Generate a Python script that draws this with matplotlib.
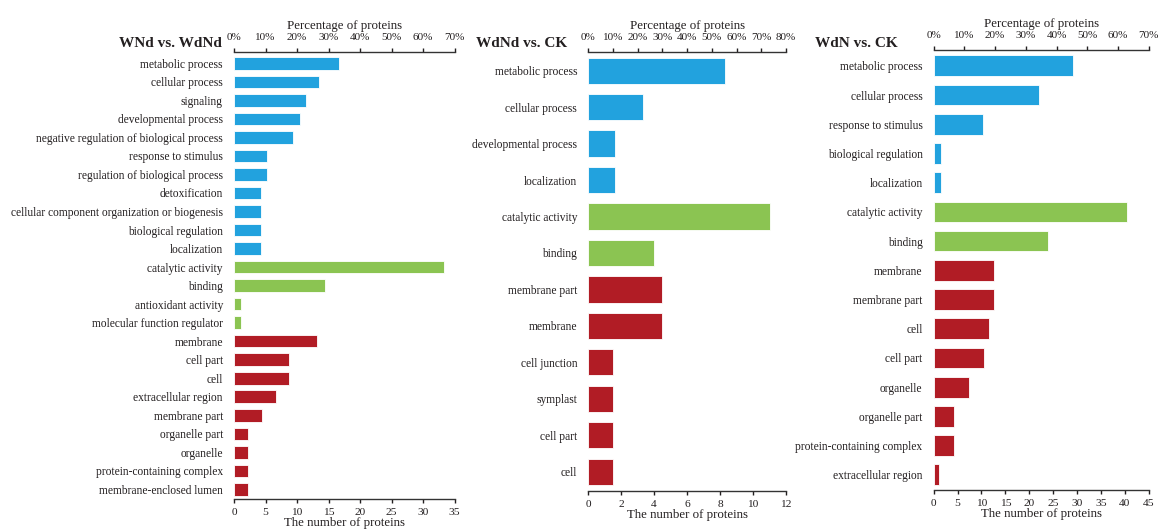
import matplotlib
matplotlib.use("Agg")
import matplotlib.pyplot as plt
from matplotlib.ticker import FuncFormatter

plt.rcParams["font.family"] = ["Liberation Serif", "DejaVu Serif"]
plt.rcParams["text.color"] = "#231f20"
plt.rcParams["axes.labelcolor"] = "#231f20"
plt.rcParams["xtick.color"] = "#231f20"
plt.rcParams["ytick.color"] = "#231f20"

# 颜色：生物过程 / 分子功能 / 细胞组分
colors = {"BP": "#22a2de", "MF": "#8bc452", "CC": "#b11c25"}

# ---- WNd vs. WdNd ----
p1_terms = ["metabolic process", "cellular process", "signaling", "developmental process",
            "negative regulation of biological process", "response to stimulus",
            "regulation of biological process", "detoxification",
            "cellular component organization or biogenesis", "biological regulation",
            "localization", "catalytic activity", "binding", "antioxidant activity",
            "molecular function regulator", "membrane", "cell part", "cell",
            "extracellular region", "membrane part", "organelle part", "organelle",
            "protein-containing complex", "membrane-enclosed lumen"]
p1_counts = [16.7, 13.5, 11.5, 10.4, 9.4, 5.2, 5.2, 4.2, 4.2, 4.2, 4.2,
             33.4, 14.5, 1.1, 1.1,
             13.1, 8.7, 8.7, 6.6, 4.4, 2.2, 2.2, 2.2, 2.2]
p1_groups = ["BP"] * 11 + ["MF"] * 4 + ["CC"] * 9

# ---- WdNd vs. CK ----
p2_terms = ["metabolic process", "cellular process", "developmental process", "localization",
            "catalytic activity", "binding", "membrane part", "membrane",
            "cell junction", "symplast", "cell part", "cell"]
p2_counts = [8.3, 3.3, 1.65, 1.65, 11.0, 4.0, 4.5, 4.5, 1.5, 1.5, 1.5, 1.5]
p2_groups = ["BP"] * 4 + ["MF"] * 2 + ["CC"] * 6

# ---- WdN vs. CK ----
p3_terms = ["metabolic process", "cellular process", "response to stimulus",
            "biological regulation", "localization", "catalytic activity", "binding",
            "membrane", "membrane part", "cell", "cell part", "organelle",
            "organelle part", "protein-containing complex", "extracellular region"]
p3_counts = [29.2, 22.0, 10.3, 1.5, 1.5, 40.5, 23.9, 12.7, 12.7, 11.6, 10.5, 7.4, 4.3, 4.3, 1.05]
p3_groups = ["BP"] * 5 + ["MF"] * 2 + ["CC"] * 8

fig = plt.figure(figsize=(11.61, 5.32), dpi=100)

panels = [
    # title, terms, counts, groups, axes rect, count max, count step, pct max, bar height, top pad, title right x
    ("WNd vs. WdNd", p1_terms, p1_counts, p1_groups, [0.2016, 0.0620, 0.1899, 0.8403], 35, 5, 70, 0.68, 0.612, 222),
    ("WdNd vs. CK", p2_terms, p2_counts, p2_groups, [0.5067, 0.0776, 0.1703, 0.8252], 12, 2, 80, 0.72, 0.52, 567),
    ("WdN vs. CK", p3_terms, p3_counts, p3_groups, [0.8042, 0.0789, 0.1852, 0.8271], 45, 5, 70, 0.71, 0.54, 898),
]

for title, terms, counts, groups, rect, cmax, cstep, pmax, bh, top_pad, title_x in panels:
    ax = fig.add_axes(rect)
    n = len(terms)
    ax.barh(range(n), counts, height=bh, color=[colors[g] for g in groups],
            edgecolor="white", linewidth=0.6)
    ax.set_yticks(range(n))
    ax.set_yticklabels(terms, fontsize=8.3)
    ax.set_ylim(n - 1 + 0.52, -top_pad)
    ax.set_xlim(0, cmax)
    ax.set_xticks(range(0, cmax + 1, cstep))
    ax.tick_params(axis="y", length=0, pad=8)
    ax.tick_params(axis="x", labelsize=8.2, length=3, width=1, pad=3.5)
    for s in ["left", "right", "top"]:
        ax.spines[s].set_visible(False)
    ax.spines["bottom"].set_linewidth(1)
    ax.spines["bottom"].set_color("#333333")
    ax.set_xlabel("The number of proteins", fontsize=9.3, labelpad=0)

    # 上方百分比坐标轴
    ax2 = ax.twiny()
    ax2.set_xlim(0, pmax)
    ax2.set_xticks(range(0, pmax + 1, 10))
    ax2.xaxis.set_major_formatter(FuncFormatter(lambda v, _: f"{v:.0f}%"))
    ax2.tick_params(axis="x", labelsize=8, length=3, width=1, pad=4)
    for s in ["left", "right", "bottom"]:
        ax2.spines[s].set_visible(False)
    ax2.spines["top"].set_linewidth(1)
    ax2.spines["top"].set_color("#333333")
    ax2.set_xlabel("Percentage of proteins", fontsize=9.3, labelpad=3)

    fig.text(title_x / 1161, 1 - 44 / 532, title, ha="right", va="center",
             fontsize=11, fontweight="bold")

fig.savefig("out.png", dpi=100, facecolor="white")
